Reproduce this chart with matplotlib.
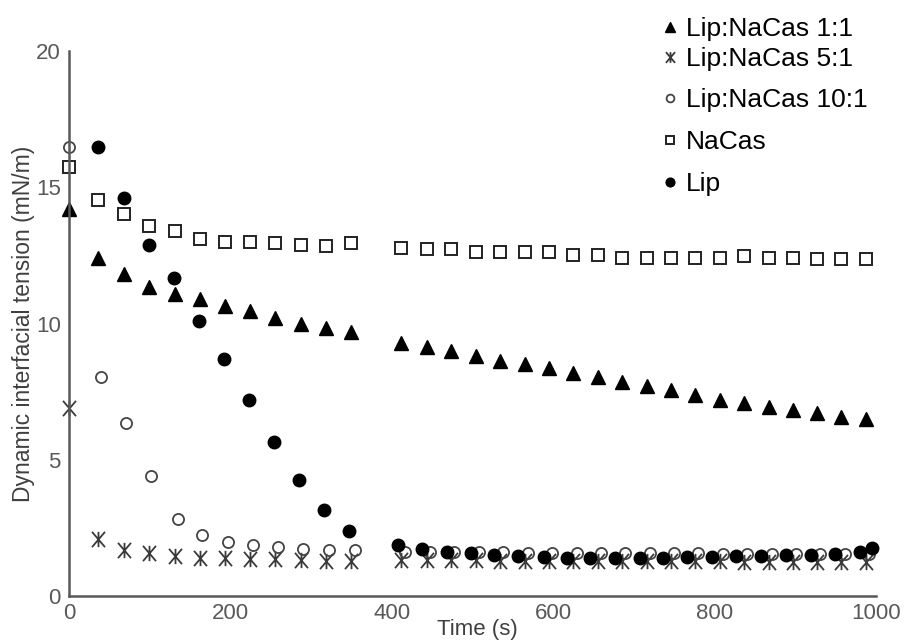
import matplotlib
matplotlib.use('Agg')
import matplotlib.pyplot as plt
from matplotlib.path import Path
import numpy as np

# time points (s)
time_s = [0, 36, 68, 99, 131, 162, 193, 224, 255, 287, 318, 349,
          412, 443, 473, 504, 534, 565, 595, 625, 655, 685, 716, 746,
          776, 807, 836, 867, 897, 927, 957, 987]
time_10_1 = [0, 40, 71, 102, 135, 165, 197, 228, 259, 290, 322, 354,
             416, 447, 477, 508, 538, 569, 599, 629, 659, 689, 720, 750,
             780, 811, 840, 871, 901, 931, 961, 991]
time_lip = [36, 68, 99, 130, 161, 192, 223, 254, 285, 316, 347,
            408, 437, 468, 498, 527, 557, 588, 617, 646, 677, 707, 736,
            766, 797, 827, 858, 889, 919, 949, 980, 995]

# dynamic interfacial tension (mN/m)
lip_nacas_1_1 = [14.2, 12.4, 11.8, 11.35, 11.1, 10.9, 10.65, 10.45, 10.2, 10.0, 9.85, 9.7,
                 9.28, 9.15, 9.0, 8.8, 8.62, 8.5, 8.35, 8.2, 8.03, 7.86, 7.7, 7.55,
                 7.38, 7.2, 7.08, 6.93, 6.82, 6.72, 6.57, 6.48]
lip_nacas_5_1 = [6.91, 2.08, 1.68, 1.58, 1.47, 1.41, 1.41, 1.34, 1.34, 1.31, 1.29, 1.29,
                 1.33, 1.32, 1.31, 1.31, 1.30, 1.30, 1.29, 1.29, 1.28, 1.28, 1.28, 1.27,
                 1.27, 1.27, 1.26, 1.26, 1.25, 1.25, 1.25, 1.24]
lip_nacas_10_1 = [16.48, 8.03, 6.36, 4.42, 2.81, 2.23, 1.97, 1.86, 1.80, 1.74, 1.70, 1.67,
                  1.63, 1.62, 1.61, 1.60, 1.60, 1.59, 1.59, 1.58, 1.58, 1.57, 1.57, 1.56,
                  1.56, 1.55, 1.55, 1.55, 1.54, 1.54, 1.53, 1.53]
nacas = [15.75, 14.55, 14.03, 13.58, 13.38, 13.11, 12.99, 13.0, 12.94, 12.87, 12.85, 12.94,
         12.77, 12.75, 12.73, 12.63, 12.63, 12.63, 12.63, 12.5, 12.53, 12.41, 12.41, 12.41,
         12.41, 12.41, 12.47, 12.41, 12.41, 12.35, 12.35, 12.35]
lip = [16.46, 14.6, 12.87, 11.68, 10.1, 8.71, 7.21, 5.66, 4.26, 3.14, 2.38,
       1.86, 1.74, 1.62, 1.56, 1.50, 1.46, 1.44, 1.40, 1.40, 1.40, 1.40, 1.40,
       1.44, 1.44, 1.46, 1.46, 1.50, 1.50, 1.53, 1.62, 1.75]

x_ticks = [0, 200, 400, 600, 800, 1000]
y_ticks = [0, 5, 10, 15, 20]

plt.rcParams['font.family'] = ['Liberation Sans', 'DejaVu Sans']

# excel-like asterisk: X plus vertical bar
star = Path([(-0.85, -1), (0.85, 1), (-0.85, 1), (0.85, -1), (0, -1), (0, 1)],
            [Path.MOVETO, Path.LINETO, Path.MOVETO, Path.LINETO, Path.MOVETO, Path.LINETO])

fig = plt.figure(figsize=(9.21, 6.41), dpi=100)
ax = fig.add_axes([69 / 921, 1 - 596 / 641, (876 - 69) / 921, (596 - 51) / 641])

h1, = ax.plot(time_s, lip_nacas_1_1, ls='none', marker='^', ms=10, mfc='black', mec='black',
              label='Lip:NaCas 1:1', clip_on=False)
h2, = ax.plot(time_s, lip_nacas_5_1, ls='none', marker=star, ms=11, mfc='none', mec='#3a3a3a',
              mew=1.3, label='Lip:NaCas 5:1', clip_on=False)
h3, = ax.plot(time_10_1, lip_nacas_10_1, ls='none', marker='o', ms=8, mfc='none', mec='#444444',
              mew=1.3, label='Lip:NaCas 10:1', clip_on=False)
h4, = ax.plot(time_s, nacas, ls='none', marker='s', ms=8, mfc='none', mec='#222222',
              mew=1.4, label='NaCas', clip_on=False)
h5, = ax.plot(time_lip, lip, ls='none', marker='o', ms=9, mfc='black', mec='black',
              label='Lip', clip_on=False)

ax.set_xlim(0, 1000)
ax.set_ylim(0, 20)
ax.set_xticks(x_ticks)
ax.set_yticks(y_ticks)
ax.tick_params(length=0, labelsize=16, labelcolor='#595959')
ax.tick_params(axis='x', pad=5)
ax.tick_params(axis='y', pad=6)
for s in ['top', 'right']:
    ax.spines[s].set_visible(False)
for s in ['left', 'bottom']:
    ax.spines[s].set_color('#595959')
    ax.spines[s].set_linewidth(1.8)

ax.set_xlabel('Time (s)', fontsize=16, color='#404040')
ax.xaxis.set_label_coords(0.506, -0.061)
ax.xaxis.label.set_va('center')
ax.set_ylabel('Dynamic interfacial tension (mN/m)', fontsize=16.5, color='#404040')
ax.yaxis.set_label_coords(-0.057, 0.5)
ax.yaxis.label.set_va('center')

# legend in two blocks (the first two rows sit closer together)
leg_kw = dict(loc='upper left', frameon=False, fontsize=19, markerscale=0.7,
              handlelength=0.6, handletextpad=0.3, borderpad=0, borderaxespad=0)
fig.legend(handles=[h1, h2], bbox_to_anchor=(662 / 921, 1 - 17 / 641),
           labelspacing=0.22, **leg_kw)
fig.legend(handles=[h3, h4, h5], bbox_to_anchor=(662 / 921, 1 - 88 / 641),
           labelspacing=0.68, **leg_kw)

fig.savefig('out.png', dpi=100)
